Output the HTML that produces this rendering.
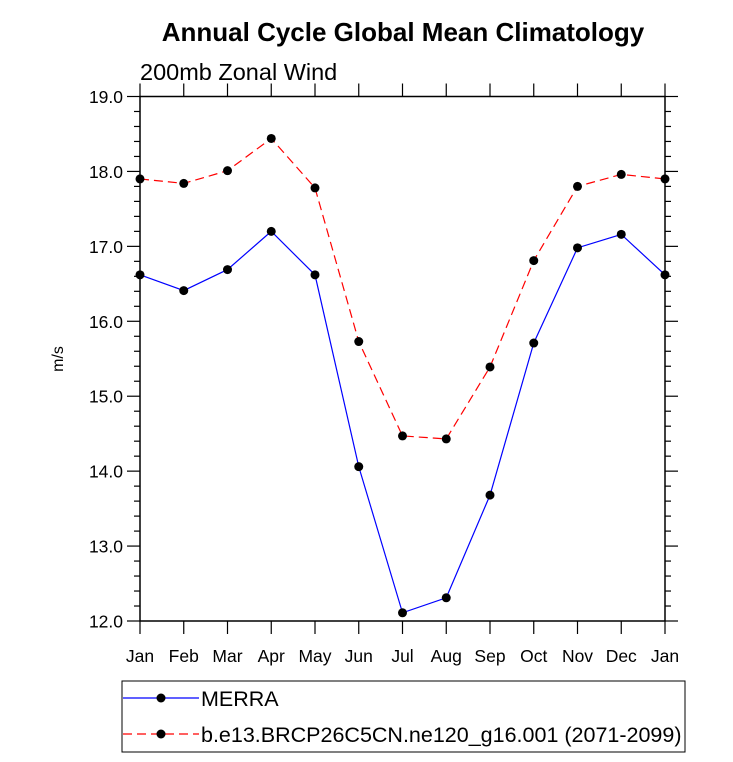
<!DOCTYPE html>
<html><head><meta charset="utf-8"><style>body{margin:0;background:#fff}svg{font-family:"Liberation Sans",sans-serif}</style></head>
<body>
<svg id="c" width="733" height="757" xmlns="http://www.w3.org/2000/svg">
<text x="403" y="41" text-anchor="middle" font-size="26" font-weight="bold">Annual Cycle Global Mean Climatology</text>
<text x="140" y="80" font-size="23.5">200mb Zonal Wind</text>
<text transform="translate(63,359) rotate(-90)" text-anchor="middle" font-size="16">m/s</text>
<g id="axes"></g>
<g id="series"></g>
<g>
<rect x="122" y="681" width="563" height="71" fill="none" stroke="#000" stroke-width="1"/>
<line x1="123" y1="698" x2="199" y2="698" stroke="#00f" stroke-width="1.2"/>
<circle cx="161" cy="698" r="4.5" fill="#000"/>
<text x="201" y="706" font-size="21.5">MERRA</text>
<line x1="123" y1="734" x2="199" y2="734" stroke="#f00" stroke-width="1.2" stroke-dasharray="9,5"/>
<circle cx="161" cy="734" r="4.5" fill="#000"/>
<text x="201" y="742" font-size="21.5">b.e13.BRCP26C5CN.ne120_g16.001 (2071-2099)</text>
</g>
</svg>
<script>
const months = ["Jan","Feb","Mar","Apr","May","Jun","Jul","Aug","Sep","Oct","Nov","Dec","Jan"];
const merra = [16.62,16.41,16.69,17.2,16.62,14.06,12.11,12.31,13.68,15.71,16.98,17.16,16.62];
const model = [17.9,17.84,18.01,18.44,17.78,15.73,14.47,14.43,15.39,16.81,17.8,17.96,17.9];
const yTicks = ["12.0","13.0","14.0","15.0","16.0","17.0","18.0","19.0"];
const L=140,R=665,T=96.5,B=621,ymin=12,ymax=19;
const xs=i=>L+(R-L)*i/(months.length-1);
const ys=v=>B-(B-T)*(v-ymin)/(ymax-ymin);
const NS="http://www.w3.org/2000/svg";
function mk(tag,attrs,parent){const e=document.createElementNS(NS,tag);for(const k in attrs)e.setAttribute(k,attrs[k]);parent.appendChild(e);return e;}
const ax=document.getElementById('axes');
const frame=mk('rect',{x:L,y:T,width:R-L,height:B-T,fill:'none',stroke:'#000','stroke-width':1.5},ax);


months.forEach((m,i)=>{const x=xs(i);
 mk('line',{x1:x,y1:B,x2:x,y2:B+13,stroke:'#000','stroke-width':1.2},ax);
 mk('line',{x1:x,y1:T,x2:x,y2:T-13,stroke:'#000','stroke-width':1.2},ax);
 const t=mk('text',{x:x,y:B+41,'text-anchor':'middle','font-size':17.5},ax);t.textContent=m;
 
 
});
for(let v=ymin;v<=ymax+1e-9;v+=0.2){const y=ys(v);const maj=Math.abs(v-Math.round(v))<1e-6;const len=maj?13:6;
 mk('line',{x1:L-len,y1:y,x2:L,y2:y,stroke:'#000','stroke-width':1.2},ax);
 mk('line',{x1:R,y1:y,x2:R+len,y2:y,stroke:'#000','stroke-width':1.2},ax);}
yTicks.forEach(s=>{const t=mk('text',{x:L-17,y:ys(parseFloat(s))+6.5,'text-anchor':'end','font-size':17.5},ax);t.textContent=s;
 
 });
const sg=document.getElementById('series');
function series(vals,color,dash,name){
 const p=mk('polyline',{points:vals.map((v,i)=>xs(i)+','+ys(v)).join(' '),fill:'none',stroke:color,'stroke-width':1.2,'stroke-dasharray':dash},sg);
 
 
 vals.forEach((v,i)=>{const c=mk('circle',{cx:xs(i),cy:ys(v),r:4.5,fill:'#000'},sg);
  
  });
}
series(merra,'#00f','none','merra');
series(model,'#f00','9,5','model');
</script>
</body></html>
